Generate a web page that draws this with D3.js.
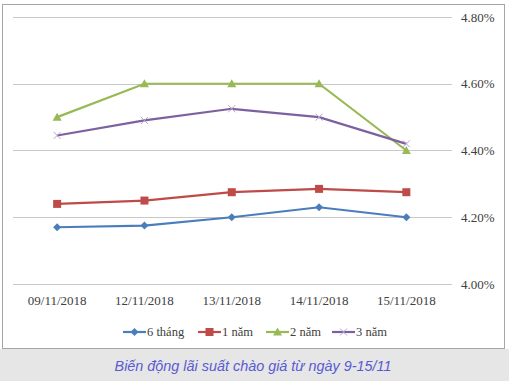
<!DOCTYPE html>
<html>
<head>
<meta charset="utf-8">
<script src="https://cdn.jsdelivr.net/npm/d3@7"></script>
<style>
  body { margin: 0; background: #fff; }
  svg { display: block; }
</style>
</head>
<body>
<div id="chart"></div>
<script>
// data (%)
var dates = ["09/11/2018", "12/11/2018", "13/11/2018", "14/11/2018", "15/11/2018"];
var seriesNames = ["6 tháng", "1 năm", "2 năm", "3 năm"];
var sixMonth = [4.17, 4.175, 4.20, 4.23, 4.20];
var oneYear = [4.24, 4.25, 4.275, 4.285, 4.275];
var twoYear = [4.50, 4.60, 4.60, 4.60, 4.40];
var threeYear = [4.445, 4.49, 4.525, 4.50, 4.42];
var yTicks = [4.0, 4.2, 4.4, 4.6, 4.8];
var caption = "Biến động lãi suất chào giá từ ngày 9-15/11";

var colors = ["#4a7ebb", "#be4b48", "#98b954", "#7d60a0"];
var markers = ["diamond", "square", "triangle", "cross"];
var allSeries = [sixMonth, oneYear, twoYear, threeYear];

var W = 509, H = 381;
var svg = d3.select("#chart").append("svg")
    .attr("width", W)
    .attr("height", H);

// caption band
svg.append("rect")
    .attr("x", 0).attr("y", 349)
    .attr("width", W).attr("height", H - 349)
    .attr("fill", "#e6e6e6");
svg.append("text")
    .attr("x", 253).attr("y", 371)
    .attr("text-anchor", "middle")
    .style("font-family", "'Liberation Sans', Arial, sans-serif")
    .style("font-style", "italic")
    .style("font-size", "14.4px")
    .attr("fill", "#5a5ad2")
    .text(caption);

// chart frame
svg.append("rect")
    .attr("x", 2.5).attr("y", 4.5)
    .attr("width", 502).attr("height", 344)
    .attr("fill", "#fff")
    .attr("stroke", "#a6a6a6");

var x = d3.scaleBand()
    .domain(dates)
    .range([13.5, 450]);

var y = d3.scaleLinear()
    .domain([4.0, 4.8])
    .range([284, 17]);

var serif = "'Liberation Serif', 'Times New Roman', serif";

// gridlines + right labels
var yAxis = d3.axisRight(y)
    .tickValues(yTicks)
    .tickSize(0)
    .tickPadding(0)
    .tickFormat(function(d) { return d.toFixed(2) + "%"; });

var gy = svg.append("g").attr("transform", "translate(461,0)").call(yAxis);
gy.select(".domain").remove();
gy.selectAll("text")
    .style("font-family", serif)
    .style("font-size", "13px")
    .attr("fill", "#404040");

svg.append("g").selectAll("line")
    .data(yTicks)
    .join("line")
    .attr("x1", 13).attr("x2", 452)
    .attr("y1", function(d) { return Math.round(y(d)) + 0.5; })
    .attr("y2", function(d) { return Math.round(y(d)) + 0.5; })
    .attr("stroke", "#c8c8c8");

// category labels
var xAxis = d3.axisBottom(x).tickSize(0).tickPadding(0);
var gx = svg.append("g").attr("transform", "translate(0,296)").call(xAxis);
gx.select(".domain").remove();
gx.selectAll("text")
    .style("font-family", serif)
    .style("font-size", "13px")
    .attr("fill", "#404040");

var cx = function(d, i) { return x(dates[i]) + x.bandwidth() / 2; };

var line = d3.line()
    .x(function(d, i) { return cx(d, i); })
    .y(function(d) { return y(d); });

function drawMarker(g, type, color) {
    if (type == "diamond") {
        g.append("path").attr("d", "M0,-4L4,0L0,4L-4,0Z").attr("fill", color);
    } else if (type == "square") {
        g.append("rect").attr("x", -4).attr("y", -4).attr("width", 8).attr("height", 8).attr("fill", color);
    } else if (type == "triangle") {
        g.append("path").attr("d", "M0,-4.5L4.5,3.5L-4.5,3.5Z").attr("fill", color);
    } else {
        g.append("path").attr("d", "M-3.5,-3.5L3.5,3.5M-3.5,3.5L3.5,-3.5")
            .attr("stroke", "#b6a6cc").attr("stroke-width", 1).attr("fill", "none");
    }
}

allSeries.forEach(function(vals, s) {
    svg.append("path")
        .datum(vals)
        .attr("d", line)
        .attr("fill", "none")
        .attr("stroke", colors[s])
        .attr("stroke-width", 2.2);
    vals.forEach(function(v, i) {
        var g = svg.append("g").attr("transform", "translate(" + cx(v, i) + "," + y(v) + ")");
        drawMarker(g, markers[s], colors[s]);
    });
});

// legend
var legendX = [123, 198, 266, 332];
var legend = svg.append("g");
seriesNames.forEach(function(name, s) {
    var lg = legend.append("g").attr("transform", "translate(" + legendX[s] + ",332)");
    lg.append("line")
        .attr("x1", 0).attr("x2", 23)
        .attr("stroke", colors[s]).attr("stroke-width", 2.2);
    var m = lg.append("g").attr("transform", "translate(11.5,0)");
    drawMarker(m, markers[s], colors[s]);
    lg.append("text")
        .attr("x", 24).attr("y", 4)
        .style("font-family", serif)
        .style("font-size", "12.5px")
        .attr("fill", "#404040")
        .text(name);
});
</script>
</body>
</html>
